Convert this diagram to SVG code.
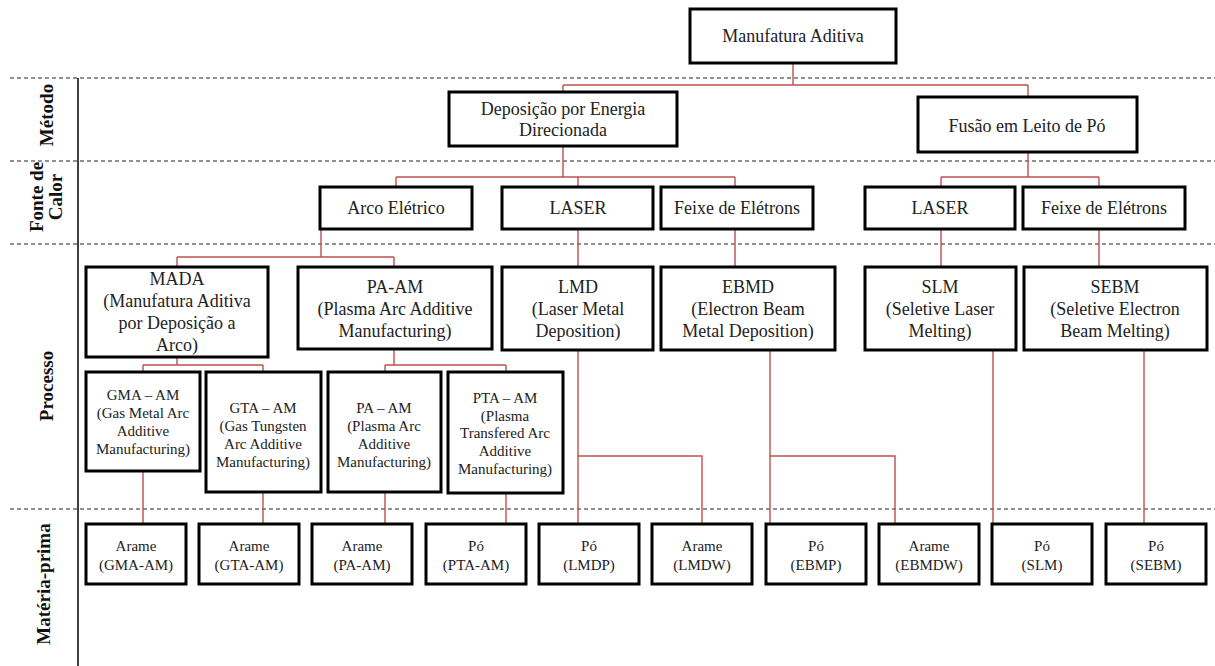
<svg xmlns="http://www.w3.org/2000/svg" width="1215" height="666" viewBox="0 0 1215 666">
<style>
.bx{fill:#fff;stroke:#000;stroke-width:3}
.t{font-family:"Liberation Serif","Times New Roman",serif;font-size:18px;fill:#222;text-anchor:middle}
.s{font-family:"Liberation Serif","Times New Roman",serif;font-size:15px;fill:#222;text-anchor:middle}
.lb{font-family:"Liberation Serif","Times New Roman",serif;font-size:19px;font-weight:bold;fill:#111;text-anchor:middle}
.dash{stroke:#222;stroke-width:1.2;stroke-dasharray:4 3;fill:none}
.cn{stroke:#C0504D;stroke-width:1.4;fill:none}
</style>
<rect width="1215" height="666" fill="#fff"/>
<g id="lanes">
<line class="dash" x1="10" y1="78" x2="1215" y2="78"/>
<line class="dash" x1="10" y1="161" x2="1215" y2="161"/>
<line class="dash" x1="10" y1="244" x2="1215" y2="244"/>
<line class="dash" x1="10" y1="509" x2="1215" y2="509"/>
<line x1="78" y1="78" x2="78" y2="666" stroke="#000" stroke-width="1.5"/>
<text class="lb" transform="translate(53,115) rotate(-90)">Método</text>
<text class="lb" transform="translate(43,197) rotate(-90)">Fonte de</text>
<text class="lb" transform="translate(62,197) rotate(-90)">Calor</text>
<text class="lb" transform="translate(53,386) rotate(-90)">Processo</text>
<text class="lb" transform="translate(50,584) rotate(-90)">Matéria-prima</text>
</g>
<g id="connectors">
<path class="cn" d="M793,63V85M563,85H1028M563,85V92M1028,85V97"/>
<path class="cn" d="M563,146V177M396,177H735M396,177V187M578,177V187M735,177V187"/>
<path class="cn" d="M1028,152V177M941,177H1099M941,177V187M1099,177V187"/>
<path class="cn" d="M321,229V257M177,257H394M177,257V267M394,257V267"/>
<path class="cn" d="M578,229V267M735,229V267M941,229V267M1099,229V267"/>
<path class="cn" d="M177,357V365M143,365H263M143,365V372M263,365V372"/>
<path class="cn" d="M394,349V365M385,365H506M385,365V372M506,365V372"/>
<path class="cn" d="M143,471V524M263,492V524M385,492V524M506,493V524"/>
<path class="cn" d="M578,350V524M578,456H702V524"/>
<path class="cn" d="M770,350V524M770,456H895V524"/>
<path class="cn" d="M993,350V524M1144,350V524"/>
</g>
<g id="n-ma"><rect class="bx" x="690" y="9" width="206" height="54"/><text class="t" x="793" y="42">Manufatura  Aditiva</text></g>
<g id="n-ded"><rect class="bx" x="449" y="92" width="228" height="54"/><text class="t" x="563" y="115">Deposição por Energia</text><text class="t" x="563" y="136">Direcionada</text></g>
<g id="n-pbf"><rect class="bx" x="918" y="97" width="219" height="55"/><text class="t" x="1027" y="132">Fusão em  Leito  de Pó</text></g>
<g id="n-arco"><rect class="bx" x="320" y="187" width="152" height="42"/><text class="t" x="396" y="214">Arco Elétrico</text></g>
<g id="n-laser1"><rect class="bx" x="502" y="187" width="151" height="42"/><text class="t" x="578" y="214">LASER</text></g>
<g id="n-feixe1"><rect class="bx" x="661" y="187" width="152" height="42"/><text class="t" x="737" y="214">Feixe  de Elétrons</text></g>
<g id="n-laser2"><rect class="bx" x="865" y="187" width="150" height="42"/><text class="t" x="940" y="214">LASER</text></g>
<g id="n-feixe2"><rect class="bx" x="1023" y="187" width="162" height="42"/><text class="t" x="1104" y="214">Feixe  de Elétrons</text></g>
<g id="n-mada"><rect class="bx" x="86" y="267" width="182" height="90"/><text class="t" x="177" y="285">MADA</text><text class="t" x="177" y="307">(Manufatura  Aditiva</text><text class="t" x="177" y="329">por Deposição a</text><text class="t" x="177" y="351">Arco)</text></g>
<g id="n-paam"><rect class="bx" x="298" y="267" width="194" height="82"/><text class="t" x="395" y="293">PA-AM</text><text class="t" x="395" y="315">(Plasma Arc Additive</text><text class="t" x="395" y="337">Manufacturing)</text></g>
<g id="n-lmd"><rect class="bx" x="502" y="267" width="151" height="83"/><text class="t" x="578" y="293">LMD</text><text class="t" x="578" y="315">(Laser Metal</text><text class="t" x="578" y="337">Deposition)</text></g>
<g id="n-ebmd"><rect class="bx" x="661" y="267" width="174" height="83"/><text class="t" x="748" y="293">EBMD</text><text class="t" x="748" y="315">(Electron  Beam</text><text class="t" x="748" y="337">Metal  Deposition)</text></g>
<g id="n-slm"><rect class="bx" x="865" y="267" width="151" height="83"/><text class="t" x="940" y="293">SLM</text><text class="t" x="940" y="315">(Seletive  Laser</text><text class="t" x="940" y="337">Melting)</text></g>
<g id="n-sebm"><rect class="bx" x="1024" y="267" width="183" height="83"/><text class="t" x="1115" y="293">SEBM</text><text class="t" x="1115" y="315">(Seletive  Electron</text><text class="t" x="1115" y="337">Beam Melting)</text></g>
<g id="n-gma"><rect class="bx" x="86" y="372" width="114" height="99"/><text class="s" x="143" y="400">GMA – AM</text><text class="s" x="143" y="418">(Gas Metal Arc</text><text class="s" x="143" y="436">Additive</text><text class="s" x="143" y="454">Manufacturing)</text></g>
<g id="n-gta"><rect class="bx" x="206" y="372" width="115" height="120"/><text class="s" x="263" y="413">GTA – AM</text><text class="s" x="263" y="431">(Gas Tungsten</text><text class="s" x="263" y="449">Arc Additive</text><text class="s" x="263" y="467">Manufacturing)</text></g>
<g id="n-pa"><rect class="bx" x="328" y="372" width="113" height="120"/><text class="s" x="384" y="413">PA – AM</text><text class="s" x="384" y="431">(Plasma Arc</text><text class="s" x="384" y="449">Additive</text><text class="s" x="384" y="467">Manufacturing)</text></g>
<g id="n-pta"><rect class="bx" x="448" y="372" width="115" height="121"/><text class="s" x="505" y="403">PTA – AM</text><text class="s" x="505" y="421">(Plasma</text><text class="s" x="505" y="438">Transfered Arc</text><text class="s" x="505" y="456">Additive</text><text class="s" x="505" y="474">Manufacturing)</text></g>
<g id="m1"><rect class="bx" x="86" y="524" width="100" height="60"/><text class="s" x="136" y="551">Arame</text><text class="s" x="136" y="570">(GMA-AM)</text></g>
<g id="m2"><rect class="bx" x="199" y="524" width="100" height="60"/><text class="s" x="249" y="551">Arame</text><text class="s" x="249" y="570">(GTA-AM)</text></g>
<g id="m3"><rect class="bx" x="312" y="524" width="100" height="60"/><text class="s" x="362" y="551">Arame</text><text class="s" x="362" y="570">(PA-AM)</text></g>
<g id="m4"><rect class="bx" x="426" y="524" width="100" height="60"/><text class="s" x="476" y="551">Pó</text><text class="s" x="476" y="570">(PTA-AM)</text></g>
<g id="m5"><rect class="bx" x="539" y="524" width="100" height="60"/><text class="s" x="589" y="551">Pó</text><text class="s" x="589" y="570">(LMDP)</text></g>
<g id="m6"><rect class="bx" x="652" y="524" width="100" height="60"/><text class="s" x="702" y="551">Arame</text><text class="s" x="702" y="570">(LMDW)</text></g>
<g id="m7"><rect class="bx" x="766" y="524" width="100" height="60"/><text class="s" x="816" y="551">Pó</text><text class="s" x="816" y="570">(EBMP)</text></g>
<g id="m8"><rect class="bx" x="879" y="524" width="100" height="60"/><text class="s" x="929" y="551">Arame</text><text class="s" x="929" y="570">(EBMDW)</text></g>
<g id="m9"><rect class="bx" x="992" y="524" width="100" height="60"/><text class="s" x="1042" y="551">Pó</text><text class="s" x="1042" y="570">(SLM)</text></g>
<g id="m10"><rect class="bx" x="1106" y="524" width="100" height="60"/><text class="s" x="1156" y="551">Pó</text><text class="s" x="1156" y="570">(SEBM)</text></g>
</svg>
